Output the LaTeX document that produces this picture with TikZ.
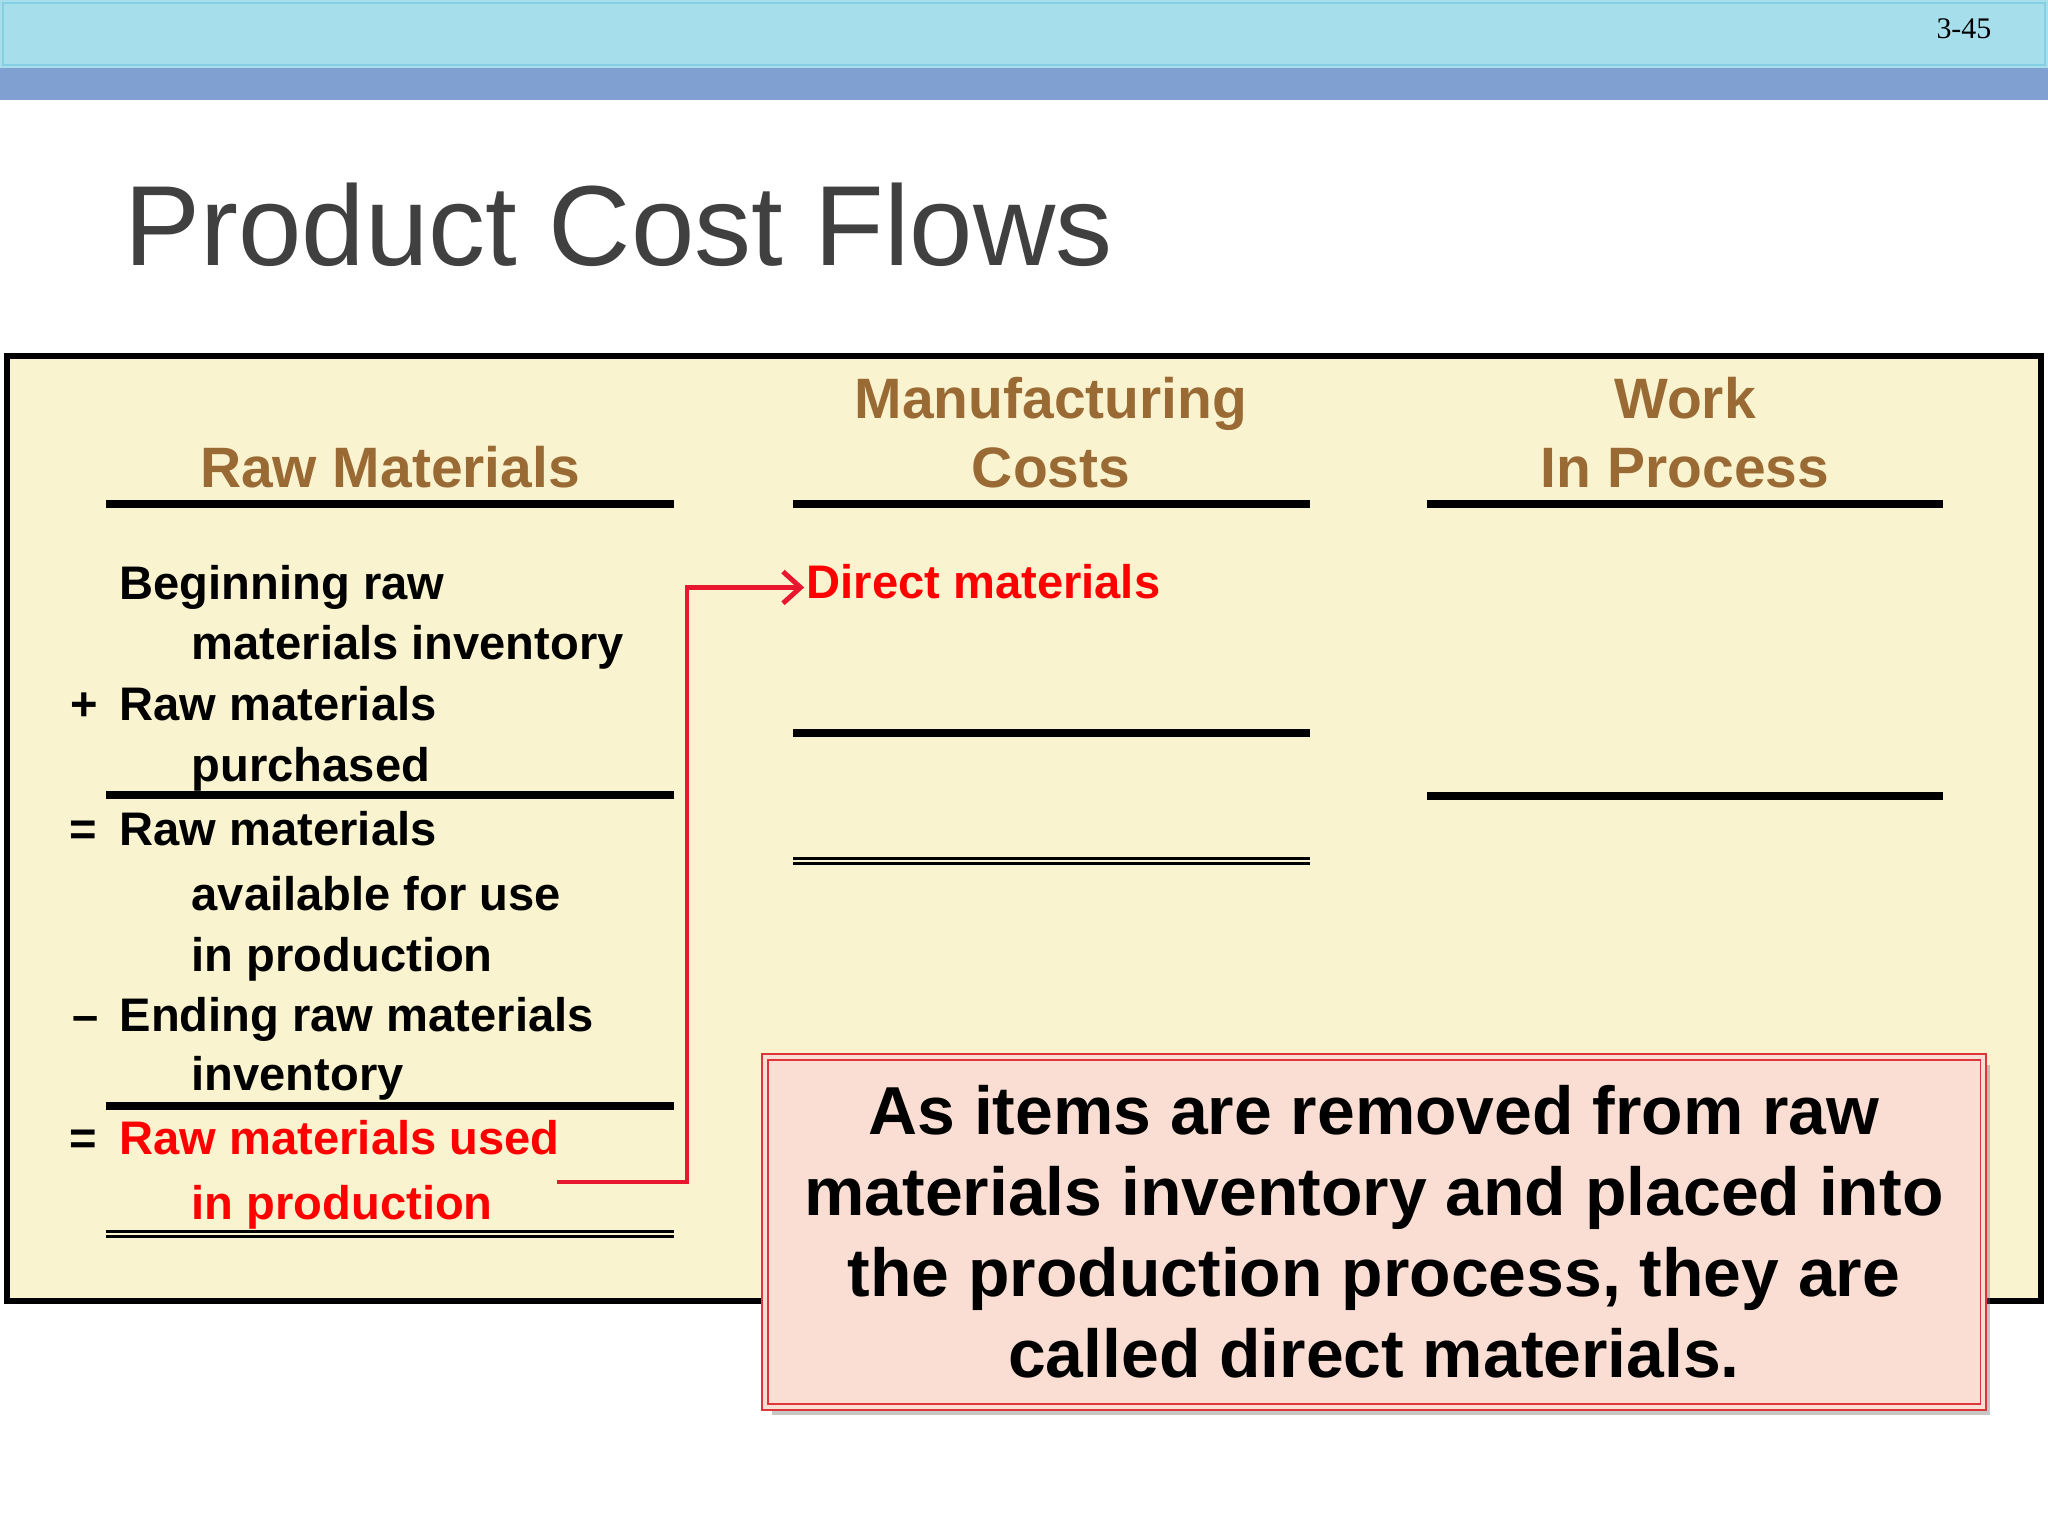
\documentclass[tikz,border=0pt]{standalone}
\usepackage{fontspec}
\setmainfont{Liberation Sans}
\newfontfamily\pagefont{Liberation Serif}
\usepackage{tikz}
\usetikzlibrary{arrows.meta,shadows}

\definecolor{bandblue}{HTML}{A6DEEB}
\definecolor{bandedge}{HTML}{86CFE3}
\definecolor{navyband}{HTML}{7FA0D1}
\definecolor{titlegray}{HTML}{404040}
\definecolor{cream}{HTML}{FAF3D0}
\definecolor{headbrown}{HTML}{9A6A35}
\definecolor{textred}{HTML}{FF0000}
\definecolor{flowred}{HTML}{E8162E}
\definecolor{calloutred}{HTML}{E0343C}
\definecolor{calloutfill}{HTML}{FADED3}

\tikzset{
    entry/.style={font=\bfseries\fontsize{13.4}{16}\selectfont, anchor=base west, inner sep=0pt},
    redentry/.style={entry, text=textred},
    colhead/.style={font=\bfseries\fontsize{16.2}{19.5}\selectfont, text=headbrown, anchor=base, inner sep=0pt},
    ledgerline/.style={line width=2pt},
    dblrule/.style={line width=0.7pt, double=cream, double distance=0.75pt},
    flowline/.style={draw=flowred, line width=1.4pt, shorten >=0.5pt, -{Straight Barb[length=5pt,width=9pt]}},
    callout/.style={draw=calloutred, double=calloutfill, double distance=1.1pt, line width=0.55pt,
        fill=calloutfill, minimum width=12.18cm, minimum height=3.5cm, align=center,
        font=\bfseries\fontsize{19.3}{23}\selectfont,
        drop shadow={shadow xshift=2pt, shadow yshift=-2.2pt, opacity=0.4, fill=black!55}}
}

\begin{document}
\begin{tikzpicture}[x=0.01cm,y=-0.01cm]
    \useasboundingbox (0,0) rectangle (2048,1536);
    \fill   [white] (0,0) rectangle (2048,1536);
    \fill   [bandblue] (0,0) rectangle (2048,68);
    \draw   [bandedge, line width=0.8pt] (3,3) rectangle (2045,65);
    \fill   [navyband] (0,68) rectangle (2048,100);
    \node   [font=\pagefont\fontsize{8.5}{10}\selectfont, anchor=base east, inner sep=0pt] (page) at (1992,38) {3-45};
    \node   [font=\fontsize{32.4}{39}\selectfont, text=titlegray, anchor=base west, inner sep=0pt] (title) at (124,265) {Product Cost Flows};

    \draw   [fill=cream, line width=1.5pt] (7,356) rectangle (2041,1301);

    \node   [colhead] (rmhead) at (390,487) {Raw Materials};
    \node   [colhead] (mchead) at (1051,418) {Manufacturing};
    \node   [colhead] (mchead2) at (1051,487) {Costs};
    \node   [colhead] (wiphead) at (1685,418) {Work};
    \node   [colhead] (wiphead2) at (1685,487) {In Process};

    \draw   [ledgerline] (106,504) -- (674,504)
                         (793,504) -- (1310,504)
                         (1427,504) -- (1943,504);
    \draw   [ledgerline] (106,795) -- (674,795);
    \draw   [ledgerline] (106,1106) -- (674,1106);
    \draw   [dblrule] (106,1234) -- (674,1234);
    \draw   [ledgerline] (793,733) -- (1310,733);
    \draw   [dblrule] (793,861) -- (1310,861);
    \draw   [ledgerline] (1427,796) -- (1943,796);

    \node   [entry] (beg) at (119,599) {Beginning raw};
    \node   [entry] (beg2) at (191,659) {materials inventory};
    \node   [entry] (plus) at (70,720) {+};
    \node   [entry] (purch) at (119,720) {Raw materials};
    \node   [entry] (purch2) at (191,781) {purchased};
    \node   [entry] (eq1) at (69,845) {=};
    \node   [entry] (avail) at (119,845) {Raw materials};
    \node   [entry] (avail2) at (191,910) {available for use};
    \node   [entry] (avail3) at (191,971) {in production};
    \node   [entry] (minus) at (72,1031) {--};
    \node   [entry] (ending) at (119,1031) {Ending raw materials};
    \node   [entry] (ending2) at (191,1090) {inventory};
    \node   [entry] (eq2) at (69,1154) {=};
    \node   [redentry] (used) at (119,1154) {Raw materials used};
    \node   [redentry] (used2) at (191,1219) {in production};
    \node   [redentry] (dm) at (806,598) {Direct materials};

    \coordinate (src) at (557,1182);
    \coordinate (bend) at (687,1182);
    \draw   [flowline] (src) -- (bend) |- ([yshift=3pt]dm.base west);

    \node   [callout] (note) at (1374,1232) {As items are removed from raw\\materials inventory and placed into\\the production process, they are\\called direct materials.};
\end{tikzpicture}
\end{document}
